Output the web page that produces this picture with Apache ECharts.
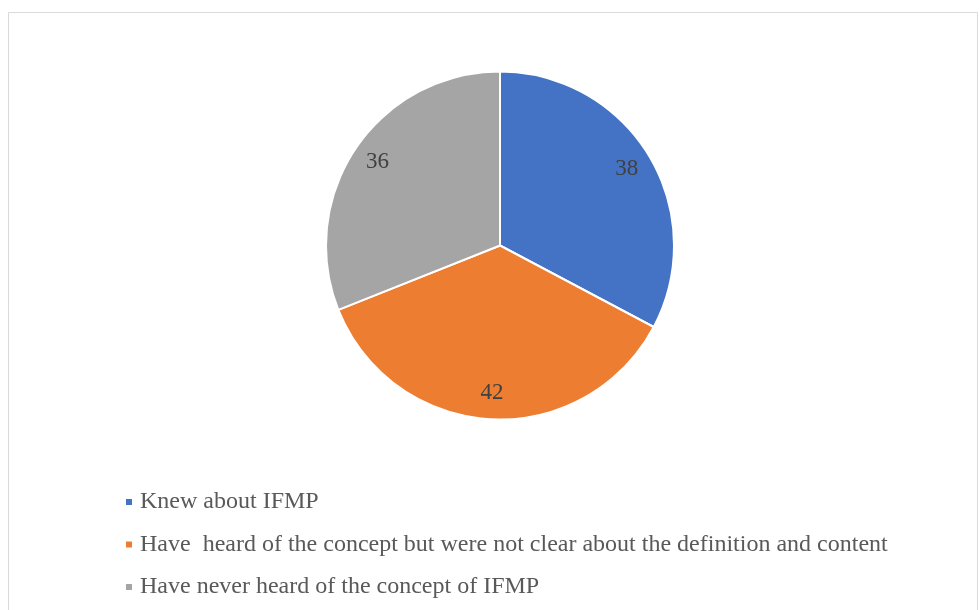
<!DOCTYPE html>
<html><head><meta charset="utf-8">
<script src="https://cdn.jsdelivr.net/npm/echarts@6/dist/echarts.min.js"></script>
<style>html,body{margin:0;padding:0;background:#fff}#c{width:979px;height:610px}</style>
</head><body><div id="c"></div>
<script>
const categories = ['Knew about IFMP', 'Have  heard of the concept but were not clear about the definition and content', 'Have never heard of the concept of IFMP'];
const values = [38, 42, 36];
const colors = ['#4472C4', '#ED7D31', '#A5A5A5'];

const chart = echarts.init(document.getElementById('c'));
const data = categories.map((n, i) => ({ name: n, value: values[i], itemStyle: { color: colors[i] } }));
chart.setOption({
  animation: false,
  graphic: [{ type: 'rect', shape: { x: 8.5, y: 12.5, width: 969, height: 620 }, style: { fill: 'none', stroke: '#d9d9d9', lineWidth: 1 }, silent: true }],
  legend: {
    orient: 'vertical', left: 124, top: 490, padding: 0, itemWidth: 8, itemHeight: 8, itemGap: 18.5, icon: 'rect',
    textStyle: { fontFamily: 'Liberation Serif', fontSize: 24, color: '#595959', lineHeight: 24, padding: [0, 0, 0, 2] },
    data: categories
  },
  series: [{
    type: 'pie', center: [500, 245.5], radius: [0, 174], startAngle: 90, clockwise: true,
    itemStyle: { borderColor: '#fff', borderWidth: 2 },
    label: { show: false }, labelLine: { show: false }, emphasis: { disabled: true },
    data: data
  }, {
    type: 'pie', center: [500, 245.5], radius: [0, 290], startAngle: 90, clockwise: true, silent: true,
    itemStyle: { color: 'rgba(0,0,0,0)' },
    label: { show: true, position: 'inside', formatter: '{c}', fontFamily: 'Liberation Serif', fontSize: 23, color: '#404040' },
    labelLine: { show: false }, emphasis: { disabled: true },
    data: categories.map((n, i) => ({ name: n, value: values[i], itemStyle: { color: 'rgba(0,0,0,0)' } }))
  }]
});
</script></body></html>
